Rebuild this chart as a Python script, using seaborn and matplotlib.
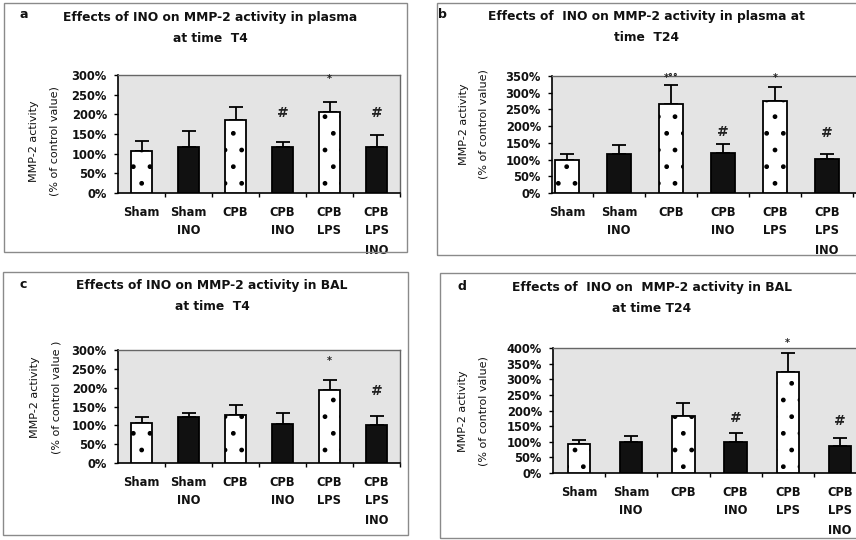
import numpy as np
import pandas as pd
import matplotlib
matplotlib.use("Agg")
import matplotlib.pyplot as plt
from matplotlib.patches import Rectangle
from matplotlib.ticker import PercentFormatter, MultipleLocator
import seaborn as sns

# ---- data -------------------------------------------------------------
groups = ["Sham", "Sham\nINO", "CPB", "CPB\nINO", "CPB\nLPS", "CPB\nLPS\nINO"]
fills = ["dot", "solid", "dot", "solid", "dot", "solid"]

plasma_t4_mean = [106, 116, 186, 116, 207, 116]
plasma_t4_err = [27, 42, 32, 13, 25, 32]

plasma_t24_mean = [98, 118, 265, 121, 276, 102]
plasma_t24_err = [20, 25, 58, 25, 42, 16]

bal_t4_mean = [106, 121, 128, 104, 194, 101]
bal_t4_err = [15, 13, 26, 30, 27, 23]

bal_t24_mean = [94, 99, 183, 99, 322, 85]
bal_t24_err = [13, 20, 41, 29, 62, 27]

# significance marks: (group index, symbol, height in %)
plasma_t4_marks = [(4, "*", 289), (3, "#", 203), (5, "#", 203)]
plasma_t24_marks = [(2, "*°°", 343), (4, "*", 343), (3, "#", 183), (5, "#", 180)]
bal_t4_marks = [(4, "*", 272), (5, "#", 190)]
bal_t24_marks = [(4, "*", 415), (3, "#", 176), (5, "#", 165)]

# ---- figure -----------------------------------------------------------
W, H = 856, 540
sns.set_theme(style="white")
plt.rcParams["font.family"] = ["DejaVu Sans"]
plt.rcParams["hatch.linewidth"] = 1.0
fig = plt.figure(figsize=(W / 100, H / 100), dpi=100)
fig.patch.set_facecolor("white")


def fx(x):
    return x / W


def fy(y):
    return 1 - y / H


def panel(box, axbox, xlim, ymax, means, errs, marks, bar_w, letter, letter_xy,
          title, title_xy, ylab_xy, ylab2, ylab_gap):
    bx0, by0, bx1, by1 = box
    fig.patches.append(Rectangle((fx(bx0), fy(by1)), fx(bx1 - bx0), (by1 - by0) / H,
                                 transform=fig.transFigure, fill=False,
                                 edgecolor="#8a8a8a", lw=1.0))
    l, r, t, b = axbox
    ax = fig.add_axes([fx(l), fy(b), fx(r - l), (b - t) / H])
    df = pd.DataFrame({"group": groups, "value": means})
    sns.barplot(data=df, x="group", y="value", order=groups, ax=ax,
                width=bar_w, errorbar=None, color="white", saturation=1)
    for patch, f in zip(ax.patches, fills):
        patch.set_edgecolor("black")
        patch.set_linewidth(1.3)
        if f == "solid":
            patch.set_facecolor("#111111")
        else:
            patch.set_facecolor("white")
            patch.set_hatch(".")
        patch.set_zorder(3)
    xs = np.arange(len(groups))
    ax.errorbar(xs, means, yerr=[np.zeros(len(errs)), errs], fmt="none",
                ecolor="black", elinewidth=1.3, capsize=5, capthick=1.3, zorder=2)
    for i, sym, h in marks:
        size = 7 if sym.startswith("*") else 10
        ax.text(i, h, sym, ha="center", va="center", fontsize=size,
                fontweight="bold", color="#222222", clip_on=False, zorder=4)
    ax.set_xlim(*xlim)
    ax.set_ylim(0, ymax)
    ax.set_facecolor("#e4e4e4")
    ax.yaxis.set_major_locator(MultipleLocator(50))
    ax.yaxis.set_major_formatter(PercentFormatter(decimals=0))
    ax.set_xticks(xs + 0.5, minor=True)
    ax.tick_params(axis="y", which="major", direction="out", length=3, width=1,
                   labelsize=8.3, pad=5, color="black", left=True)
    ax.tick_params(axis="x", which="major", length=0, labelsize=8.3, pad=9)
    ax.tick_params(axis="x", which="minor", direction="out", length=3, width=1,
                   color="black", bottom=True)
    for lab in ax.get_yticklabels() + ax.get_xticklabels():
        lab.set_fontweight("bold")
        lab.set_color("#111111")
    for lab in ax.get_xticklabels():
        lab.set_linespacing(1.6)
    ax.set_xlabel("")
    ax.set_ylabel("")
    for side in ["left", "bottom"]:
        ax.spines[side].set_color("black")
        ax.spines[side].set_linewidth(1.2)
    for side in ["top", "right"]:
        ax.spines[side].set_color("#666666")
        ax.spines[side].set_linewidth(1.0)
    fig.text(fx(letter_xy[0]), fy(letter_xy[1]), letter, ha="left", va="center",
             fontsize=9, fontweight="bold", color="#111111")
    fig.text(fx(title_xy[0]), fy(title_xy[1]), title, ha="center", va="center",
             fontsize=8.8, fontweight="bold", color="#111111", linespacing=1.75)
    fig.text(fx(ylab_xy[0]), fy(ylab_xy[1]), "MMP-2 activity", rotation=90,
             ha="center", va="center", fontsize=8, color="#111111")
    fig.text(fx(ylab_xy[0] + ylab_gap), fy(ylab_xy[1]), ylab2, rotation=90,
             ha="center", va="center", fontsize=8, color="#111111")
    return ax


panel((4, 3, 407, 252), (118, 400, 75, 193), (-0.5, 5.5), 300,
      plasma_t4_mean, plasma_t4_err, plasma_t4_marks, 0.43, "a", (20, 15),
      "Effects of INO on MMP-2 activity in plasma\nat time  T4", (210, 28),
      (34, 141), "(% of control value)", 21)

panel((437, 3, 860, 255), (552, 859, 76, 193), (-0.29, 5.62), 350,
      plasma_t24_mean, plasma_t24_err, plasma_t24_marks, 0.46, "b", (438, 15),
      "Effects of  INO on MMP-2 activity in plasma at\ntime  T24", (646, 27),
      (464, 124), "(% of control value)", 20)

panel((3, 272, 408, 535), (118, 400, 350, 463), (-0.5, 5.5), 300,
      bal_t4_mean, bal_t4_err, bal_t4_marks, 0.43, "c", (20, 285),
      "Effects of INO on MMP-2 activity in BAL\nat time  T4", (212, 296),
      (35, 397), "(% of control value )", 22)

panel((440, 273, 860, 538), (553, 866, 348, 473), (-0.5, 5.5), 400,
      bal_t24_mean, bal_t24_err, bal_t24_marks, 0.43, "d", (457, 286),
      "Effects of  INO on  MMP-2 activity in BAL\nat time T24", (652, 298),
      (463, 411), "(% of control value)", 21)

fig.savefig("out.png", dpi=100, facecolor="white")
